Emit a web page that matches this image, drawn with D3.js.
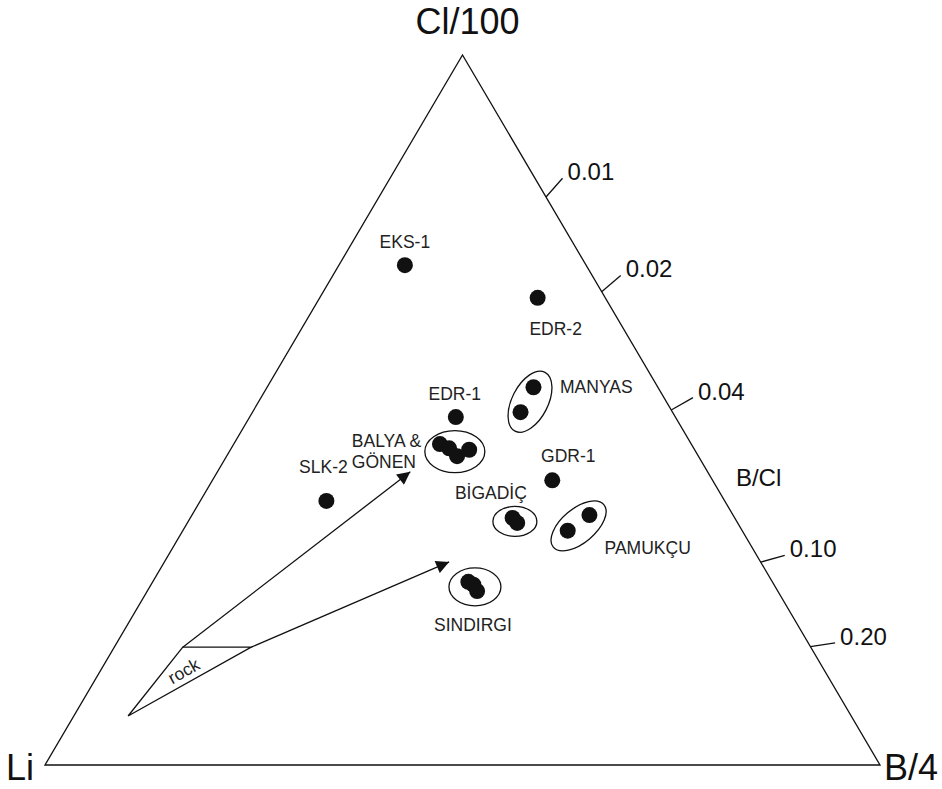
<!DOCTYPE html>
<html>
<head>
<meta charset="utf-8">
<title>Li - Cl/100 - B/4</title>
<style>
  body { margin: 0; background: #fff; }
  svg { display: block; font-family: "Liberation Sans", Arial, sans-serif; }
  .edge { fill: none; stroke: #111; stroke-width: 1.3; }
  .lbl { font-size: 17.5px; fill: #222; }
  .apex { font-size: 36px; fill: #111; }
  .tick { font-size: 24px; fill: #111; }
</style>
<script src="https://d3js.org/d3.v7.min.js"></script>
</head>
<body>
<svg></svg>
<script>
// compositions as fractions: [Li, Cl/100, B/4]
const singles = [
  { label: "EKS-1", li: 0.217, cl: 0.704, b: 0.079 },
  { label: "EDR-2", li: 0.081, cl: 0.658, b: 0.261 },
  { label: "EDR-1", li: 0.263, cl: 0.490, b: 0.247 },
  { label: "GDR-1", li: 0.192, cl: 0.401, b: 0.407 },
  { label: "SLK-2", li: 0.477, cl: 0.372, b: 0.151 }
];

const groupNames = ["MANYAS", "BALYA & GÖNEN", "BİGADİÇ", "PAMUKÇU", "SINDIRGI"];

const groupPoints = [
  { group: "MANYAS", li: 0.149, cl: 0.532, b: 0.319 },
  { group: "MANYAS", li: 0.182, cl: 0.497, b: 0.321 },
  { group: "BALYA & GÖNEN", li: 0.301, cl: 0.452, b: 0.247 },
  { group: "BALYA & GÖNEN", li: 0.293, cl: 0.446, b: 0.261 },
  { group: "BALYA & GÖNEN", li: 0.289, cl: 0.435, b: 0.276 },
  { group: "BALYA & GÖNEN", li: 0.270, cl: 0.444, b: 0.286 },
  { group: "BİGADİÇ", li: 0.266, cl: 0.348, b: 0.386 },
  { group: "BİGADİÇ", li: 0.264, cl: 0.341, b: 0.395 },
  { group: "PAMUKÇU", li: 0.172, cl: 0.352, b: 0.476 },
  { group: "PAMUKÇU", li: 0.209, cl: 0.330, b: 0.461 },
  { group: "SINDIRGI", li: 0.364, cl: 0.258, b: 0.378 },
  { group: "SINDIRGI", li: 0.360, cl: 0.254, b: 0.386 },
  { group: "SINDIRGI", li: 0.360, cl: 0.245, b: 0.395 }
];

// rock field and the two mixing arrows
const rockField = [
  { li: 0.752, cl: 0.166, b: 0.082 },
  { li: 0.670, cl: 0.166, b: 0.164 },
  { li: 0.866, cl: 0.069, b: 0.065 }
];
const arrowTips = [
  { li: 0.356, cl: 0.413, b: 0.231 },
  { li: 0.373, cl: 0.286, b: 0.341 }
];

const ratioTicks = [0.01, 0.02, 0.04, 0.10, 0.20];
const ratioTickLabels = ["0.01", "0.02", "0.04", "0.10", "0.20"];

// ---- layout / styling ----
const width = 942, height = 789;
const x = d3.scaleLinear().domain([0, 1]).range([45, 880]);
const y = d3.scaleLinear().domain([0, 1]).range([765, 55]);
const proj = d => [x(d.b + d.cl / 2), y(d.cl)];

const dotR = 8;
const ellipseStyle = {
  "MANYAS":        { rx: 33, ry: 18, rot: -63, dx: 3, dy: 2 },
  "BALYA & GÖNEN": { rx: 30, ry: 21, rot: 0, dx: 1, dy: 2 },
  "BİGADİÇ":       { rx: 22, ry: 15, rot: 0, dx: 0, dy: 1 },
  "PAMUKÇU":       { rx: 33, ry: 17, rot: -40, dx: 0, dy: 3 },
  "SINDIRGI":      { rx: 26, ry: 19, rot: 0, dx: 2, dy: 1 }
};
// label offsets from point (singles) or ellipse centre (groups)
const labelPos = {
  "EKS-1": { dx: 0, dy: -17, anchor: "middle" },
  "EDR-2": { dx: 18, dy: 37, anchor: "middle" },
  "EDR-1": { dx: -1, dy: -17, anchor: "middle" },
  "GDR-1": { dx: 16, dy: -18, anchor: "middle" },
  "SLK-2": { dx: -3, dy: -28, anchor: "middle" },
  "MANYAS": { dx: 30, dy: -9, anchor: "start" },
  "BALYA & GÖNEN": { dx: -103, dy: -5, anchor: "start" },
  "BİGADİÇ": { dx: -24, dy: -22, anchor: "middle" },
  "PAMUKÇU": { dx: 26, dy: 28, anchor: "start" },
  "SINDIRGI": { dx: -2, dy: 44, anchor: "middle" }
};

const svg = d3.select("svg").attr("width", width).attr("height", height);

svg.append("defs").append("marker")
  .attr("id", "head")
  .attr("viewBox", "0 0 10 10")
  .attr("refX", 10).attr("refY", 5)
  .attr("markerWidth", 15).attr("markerHeight", 13)
  .attr("markerUnits", "userSpaceOnUse")
  .attr("orient", "auto")
  .append("path").attr("d", "M0,0L10,5L0,10Z").attr("fill", "#111");

// triangle frame
const corners = [{ li: 1, cl: 0, b: 0 }, { li: 0, cl: 0, b: 1 }, { li: 0, cl: 1, b: 0 }];
svg.append("path").attr("class", "edge")
  .attr("d", "M" + corners.map(proj).join("L") + "Z");

svg.append("text").attr("class", "apex").attr("x", proj(corners[2])[0] + 5).attr("y", 34)
  .attr("text-anchor", "middle").text("Cl/100");
svg.append("text").attr("class", "apex").attr("x", 6).attr("y", 780).text("Li");
svg.append("text").attr("class", "apex").attr("x", 884).attr("y", 780).text("B/4");

// B/Cl ratio ticks on the Li = 0 edge, B/Cl = (4 b)/(100 cl)
const liCorner = proj(corners[0]);
const ratioPoint = r => { const bb = 25 * r / (1 + 25 * r); return proj({ li: 0, cl: 1 - bb, b: bb }); };
const tickLen = 25;
ratioTicks.forEach((r, i) => {
  const p = ratioPoint(r);
  const vx = p[0] - liCorner[0], vy = p[1] - liCorner[1];
  const n = Math.hypot(vx, vy);
  const e = [p[0] + vx / n * tickLen, p[1] + vy / n * tickLen];
  svg.append("line").attr("class", "edge")
    .attr("x1", p[0]).attr("y1", p[1]).attr("x2", e[0]).attr("y2", e[1]);
  svg.append("text").attr("class", "tick").attr("x", e[0] + 5).attr("y", e[1] + 2)
    .text(ratioTickLabels[i]);
});
const bcl = ratioPoint(0.065);
svg.append("text").attr("class", "tick").attr("x", bcl[0] + 15).attr("y", bcl[1] - 9).text("B/Cl");

// rock field
const rp = rockField.map(proj);
svg.append("path").attr("class", "edge").attr("d", "M" + rp.join("L") + "Z");
const ang = Math.atan2(rp[1][1] - rp[2][1], rp[1][0] - rp[2][0]) * 180 / Math.PI;
const mid = [(rp[1][0] + rp[2][0]) / 2, (rp[1][1] + rp[2][1]) / 2];
svg.append("text").attr("class", "lbl")
  .attr("transform", `translate(${mid[0]},${mid[1]}) rotate(${ang})`)
  .attr("text-anchor", "middle").attr("dy", -6).text("rock");

// arrows from rock field
arrowTips.forEach((t, i) => {
  const s = rp[i], e = proj(t);
  svg.append("line").attr("class", "edge")
    .attr("x1", s[0]).attr("y1", s[1]).attr("x2", e[0]).attr("y2", e[1])
    .attr("marker-end", "url(#head)");
});

// group ellipses
groupNames.forEach(g => {
  const pts = groupPoints.filter(d => d.group === g).map(proj);
  const c = [d3.mean(pts, p => p[0]), d3.mean(pts, p => p[1])];
  const st = ellipseStyle[g];
  const cx = c[0] + st.dx, cy = c[1] + st.dy;
  svg.append("ellipse").attr("class", "edge")
    .attr("cx", 0).attr("cy", 0).attr("rx", st.rx).attr("ry", st.ry)
    .attr("transform", `translate(${cx},${cy}) rotate(${st.rot})`);
  const lp = labelPos[g];
  const parts = g === "BALYA & GÖNEN" ? ["BALYA &", "GÖNEN"] : [g];
  const t = svg.append("text").attr("class", "lbl").attr("text-anchor", lp.anchor);
  parts.forEach((s, k) => {
    t.append("tspan").attr("x", cx + lp.dx).attr("y", cy + lp.dy + k * 21).text(s);
  });
});

svg.selectAll("circle.grp").data(groupPoints).join("circle").attr("class", "grp")
  .attr("cx", d => proj(d)[0]).attr("cy", d => proj(d)[1]).attr("r", dotR).attr("fill", "#111");

// single samples
svg.selectAll("circle.single").data(singles).join("circle").attr("class", "single")
  .attr("cx", d => proj(d)[0]).attr("cy", d => proj(d)[1]).attr("r", dotR).attr("fill", "#111");
svg.selectAll("text.slbl").data(singles).join("text").attr("class", "lbl slbl")
  .attr("text-anchor", d => labelPos[d.label].anchor)
  .attr("x", d => proj(d)[0] + labelPos[d.label].dx)
  .attr("y", d => proj(d)[1] + labelPos[d.label].dy)
  .text(d => d.label);
</script>
</body>
</html>
